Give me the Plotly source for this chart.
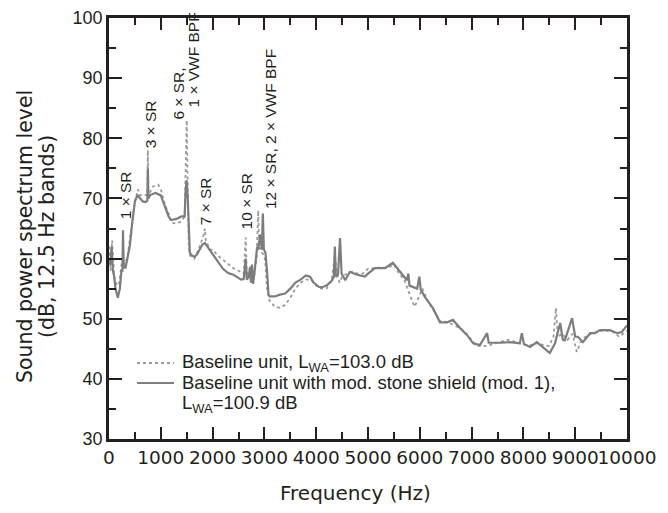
import plotly.graph_objects as go

# Baseline unit (dotted)
base_f = [0, 30, 60, 100, 150, 200, 240, 270, 300, 350, 400, 450, 500, 560, 600, 680, 740, 750, 760,
          850, 950, 1000, 1080, 1150, 1200, 1300, 1400, 1460, 1480, 1500, 1520, 1540, 1560, 1650, 1750,
          1830, 1850, 1870, 1950, 2000, 2100, 2200, 2300, 2400, 2500, 2600, 2640, 2660, 2700, 2750, 2800,
          2850, 2880, 2900, 2950, 3000, 3020, 3050, 3100, 3200, 3300, 3400, 3500, 3600, 3700, 3800, 3900,
          4000, 4100, 4200, 4300, 4360, 4400, 4450, 4500, 4600, 4700, 4800, 4900, 5000, 5200, 5400, 5500,
          5600, 5700, 5800, 5850, 5900, 5950, 6050, 6150, 6300, 6400, 6500, 6650, 6800, 6900, 7000, 7100,
          7300, 7500, 7700, 7900, 8100, 8300, 8400, 8500, 8580, 8630, 8660, 8750, 8850, 8950, 9030, 9100,
          9200, 9300, 9500, 9700, 9850, 10000]
base_db = [62, 58, 63, 57, 55.5, 56, 59, 60, 59, 60, 63, 66, 69.5, 71.5, 70.5, 70.6, 70.5, 78, 70.5,
           72, 72.3, 71.5, 69, 67.5, 66, 65.8, 66.2, 67, 75, 83, 72, 62, 60.5, 60, 62,
           64, 65, 63, 61.5, 61.5, 60.5, 59.8, 59, 58.4, 58, 57.5, 63.5, 57, 58, 59, 57,
           60, 68, 62, 61, 60.5, 59, 55, 53, 52, 51.8, 52.3, 53.5, 55, 56, 56.5, 56.5,
           55.5, 55, 55, 56.5, 60.5, 57.5, 56, 57, 57.5, 57.8, 57.5, 57.5, 58.3, 58.5, 58.5, 59,
           57.5, 56.5, 54, 53, 52, 53, 55, 53, 51, 49.5, 49.5, 49, 48.3, 47.5, 46.5, 45.5,
           45.5, 46, 46.5, 46, 45.5, 46, 45.5, 45.5, 47, 51.8, 47, 47.5, 46.5, 47.5, 44.5, 46,
           47, 47.5, 48, 48, 47, 48]

# Baseline unit with modified stone shield (solid)
mod_f = [0, 25, 50, 75, 100, 125, 170, 210, 240, 260, 270, 285, 320, 360, 400, 450, 500, 550, 600,
         650, 700, 740, 750, 760, 800, 900, 1000, 1080, 1150, 1200, 1300, 1400, 1460, 1480, 1500, 1520,
         1540, 1560, 1600, 1650, 1700, 1750, 1800, 1850, 1900, 2000, 2100, 2200, 2300, 2400, 2500, 2550,
         2600, 2640, 2660, 2700, 2720, 2740, 2760, 2780, 2800, 2840, 2860, 2880, 2900, 2920, 2950, 2970,
         2990, 3020, 3050, 3080, 3100, 3200, 3300, 3400, 3500, 3600, 3700, 3800, 3880, 3950, 4050, 4100,
         4200, 4300, 4340, 4360, 4380, 4420, 4460, 4490, 4560, 4650, 4790, 4940, 5000, 5135, 5330, 5480,
         5620, 5750, 5780, 5800, 5950, 5990, 6020, 6100, 6250, 6390, 6530, 6640, 6780, 6910, 7030, 7160,
         7300, 7330, 7550, 7740, 7930, 7970, 8010, 8130, 8260, 8420, 8510, 8610, 8710, 8760, 8800, 8940,
         9000, 9050, 9150, 9290, 9380, 9480, 9670, 9810, 9900, 10000]
mod_db = [60, 59, 62, 58, 57, 55, 53.5, 55, 58, 58, 64.7, 58.5, 58.5, 60, 62, 66, 69.5, 70.6, 70,
          69.5, 69.4, 69.6, 75, 70, 70.6, 70.9, 70.5, 68.5, 67, 66.4, 66.6, 67, 67, 71.5, 73, 70,
          64, 61, 60.5, 60.3, 60.7, 61.5, 62.3, 62.6, 62, 60.8, 59.5, 58.3, 57.6, 57.3, 56.8, 56.5,
          56.6, 60, 56.5, 57, 58.5, 56, 59, 55.8, 57, 60.5, 62, 61.5, 62.5, 64, 61.5, 67.5,
          61.5, 61, 58, 54, 53.7, 53.7, 54, 54.2, 55, 56, 56.5, 57.2, 57, 56, 55.3, 55.2,
          55.5, 56.3, 57, 62, 57, 57.3, 63.4, 57.5, 56.4, 57.8, 57.3, 57, 57.5, 58.4, 58.4, 59.3,
          57.8, 56.4, 57.5, 55.5, 55, 57, 54.8, 53.6, 51.8, 49.4, 49.4, 49.8, 48.4, 47.3, 45.9, 45.6,
          47.6, 46, 46, 46.1, 45.9, 47.6, 45.8, 45.3, 46.1, 45, 44.3, 45.9, 49.3, 46.5, 46.4, 50.1,
          47, 47, 46.1, 47.6, 47.6, 48.1, 48.1, 47.6, 47.8, 48.9]

x_ticks = [0, 1000, 2000, 3000, 4000, 5000, 6000, 7000, 8000, 9000, 10000]
x_tick_labels = ["0", "1000", "2000", "3000", "4000", "5000", "6000", "7000", "8000", "9000", "10000"]
y_ticks = [30, 40, 50, 60, 70, 80, 90, 100]

# Peak labels: (text, x in Hz, y in dB where text starts)
peak_labels = [
    ("1 × SR", 309, 66.2),
    ("3 × SR", 792, 78.0),
    ("6 × SR,", 1342, 82.7),
    ("1 × VWF BPF", 1641, 84.7),
    ("7 × SR", 1853, 65.2),
    ("10 × SR", 2654, 64.6),
    ("12 × SR, 2 × VWF BPF", 3108, 67.9),
]

legend_texts = ["Baseline unit, L<sub>WA</sub>=103.0 dB",
                "Baseline unit with mod. stone shield (mod. 1),",
                "L<sub>WA</sub>=100.9 dB"]

FONT = "Liberation Sans, Arial, sans-serif"
WIDE = "DejaVu Sans, sans-serif"
INK = "#231f20"
C_BASE = "#9a9a9a"
C_MOD = "#7d7d7d"

# plot area in screenshot pixels (page body has an 8px margin)
PL, PR, PT, PB = 109, 627, 18, 439
PW, PH = PR - PL, PB - PT


def px(xp):
    return (xp - PL) / PW


def py(yp):
    return (PB - yp) / PH


fig = go.Figure()
fig.add_trace(go.Scatter(x=base_f, y=base_db, mode="lines", showlegend=False,
                         line=dict(color=C_BASE, width=1.8, dash="dot"),
                         name="Baseline unit, L<sub>WA</sub>=103.0 dB"))
fig.add_trace(go.Scatter(x=mod_f, y=mod_db, mode="lines", showlegend=False,
                         line=dict(color=C_MOD, width=2.2),
                         name="Baseline unit with mod. stone shield (mod. 1), L<sub>WA</sub>=100.9 dB"))

for txt, fx, fy in peak_labels:
    fig.add_annotation(x=fx, y=fy, text=txt, textangle=-90, showarrow=False,
                       xanchor="center", yanchor="bottom",
                       font=dict(family=FONT, size=15.5, color=INK))

# legend (key samples + text)
fig.add_shape(type="line", xref="paper", yref="paper", x0=px(137), x1=px(174), y0=py(363), y1=py(363),
              line=dict(color=C_BASE, width=1.8, dash="dot"))
fig.add_shape(type="line", xref="paper", yref="paper", x0=px(137), x1=px(174), y0=py(383), y1=py(383),
              line=dict(color=C_MOD, width=2.2))
for txt, yy in zip(legend_texts, [362.5, 382.5, 404]):
    fig.add_annotation(x=px(180), y=py(yy), xref="paper", yref="paper", text=txt, showarrow=False,
                       xanchor="left", yanchor="middle", font=dict(family=FONT, size=18.5, color=INK))

# axis titles
fig.add_annotation(x=px(355), y=py(493), xref="paper", yref="paper",
                   text="Frequency (Hz)", showarrow=False, xanchor="center", yanchor="middle",
                   font=dict(family=WIDE, size=20, color=INK))
fig.add_annotation(x=px(25), y=py(237), xref="paper", yref="paper",
                   text="Sound power spectrum level", textangle=-90, showarrow=False,
                   xanchor="center", yanchor="middle", font=dict(family=WIDE, size=20.5, color=INK))
fig.add_annotation(x=px(47), y=py(237), xref="paper", yref="paper",
                   text="(dB, 12.5 Hz bands)", textangle=-90, showarrow=False,
                   xanchor="center", yanchor="middle", font=dict(family=WIDE, size=20.5, color=INK))

axis_common = dict(showline=True, linewidth=2.5, linecolor=INK, mirror="ticks",
                   ticks="inside", tickwidth=2, tickcolor=INK, showgrid=False, zeroline=False,
                   automargin=False)

fig.update_xaxes(range=[0, 10000], tickvals=x_ticks, ticktext=x_tick_labels, ticklen=12,
                 tickangle=0, tickfont=dict(family=WIDE, size=18.5, color=INK),
                 minor=dict(dtick=500, ticks="inside", ticklen=7, tickwidth=2, tickcolor=INK),
                 **axis_common)
fig.update_yaxes(range=[30, 100], tickvals=y_ticks, ticklen=13,
                 tickfont=dict(family=FONT, size=18, color=INK),
                 minor=dict(dtick=5, ticks="inside", ticklen=7, tickwidth=2, tickcolor=INK),
                 **axis_common)

fig.update_layout(
    width=668, height=513,
    margin=dict(l=PL - 8, r=668 - PR + 8, t=PT - 8, b=513 - PB + 8),
    plot_bgcolor="white", paper_bgcolor="white",
    showlegend=False,
)

fig.write_html("out.html")
